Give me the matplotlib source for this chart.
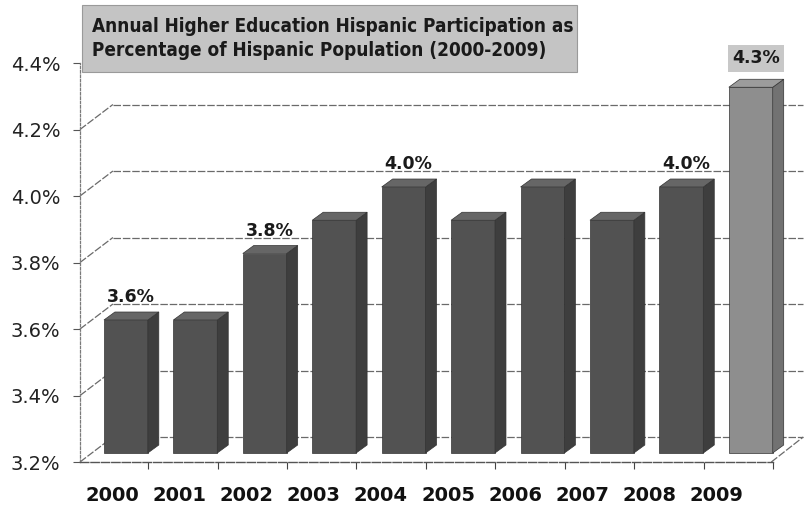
import matplotlib
matplotlib.use("Agg")
import matplotlib.pyplot as plt
from matplotlib.patches import Polygon, Rectangle
import numpy as np

# ---- data ----
years = ["2000", "2001", "2002", "2003", "2004", "2005", "2006", "2007", "2008", "2009"]
values = [3.6, 3.6, 3.8, 3.9, 4.0, 3.9, 4.0, 3.9, 4.0, 4.3]
labeled = [True, False, True, False, True, False, False, False, True, True]
y_ticks = [3.2, 3.4, 3.6, 3.8, 4.0, 4.2, 4.4]
y_tick_labels = ["3.2%", "3.4%", "3.6%", "3.8%", "4.0%", "4.2%", "4.4%"]
title = ("Annual Higher Education Hispanic Participation as\n"
         "Percentage of Hispanic Population (2000-2009)")

# ---- layout ----
W, H = 805, 508
fig = plt.figure(figsize=(W / 100, H / 100), dpi=100)
ax_l, ax_r, ax_b, ax_t = 80, 773, 462, 63  # pixel box of front wall
ax = fig.add_axes([ax_l / W, (H - ax_b) / H, (ax_r - ax_l) / W, (ax_b - ax_t) / H])
pitch = 69.6
x0 = (ax_l - 126) / pitch
x1 = x0 + (ax_r - ax_l) / pitch
ymin, ymax = y_ticks[0], y_ticks[-1]
ax.set_xlim(x0, x1)
ax.set_ylim(ymin, ymax)
ppx = (ax_r - ax_l) / (x1 - x0)
ppy = (ax_b - ax_t) / (ymax - ymin)

# back wall offset (pixels -> data)
bx, by = 33 / ppx, 25 / ppy
grid_kw = dict(color="#6a6a6a", lw=0.9, ls=(0, (6, 1.5)), clip_on=False, zorder=1)
for v in y_ticks[:-1]:
    ax.plot([x0 + bx, x1 + 32 / ppx], [v + by, v + by], **grid_kw)
    ax.plot([x0, x0 + bx], [v, v + by], **grid_kw)
ax.plot([x1, x1 + 32 / ppx], [ymin, ymin + by], **grid_kw)

# ---- bars (pseudo 3D) ----
x = np.arange(len(years))
w = 44 / ppx
shift = 9 / ppy
dx, dy = 11 / ppx, 8 / ppy
front = ["#525252"] * 9 + ["#8e8e8e"]
side = ["#3e3e3e"] * 9 + ["#727272"]
top = ["#666666"] * 9 + ["#9c9c9c"]
v_arr = np.array(values)
ax.bar(x, v_arr - ymin, bottom=ymin + shift, width=w, color=front,
       edgecolor="#333333", linewidth=0.5, clip_on=False, zorder=3)
for i, v in enumerate(values):
    b = ymin + shift
    t = v + shift
    r = x[i] + w / 2
    l = x[i] - w / 2
    ax.add_patch(Polygon([(r, b), (r + dx, b + dy), (r + dx, t + dy), (r, t)],
                         closed=True, facecolor=side[i], edgecolor="#333333",
                         lw=0.5, clip_on=False, zorder=3))
    ax.add_patch(Polygon([(l, t), (r, t), (r + dx, t + dy), (l + dx, t + dy)],
                         closed=True, facecolor=top[i], edgecolor="#333333",
                         lw=0.5, clip_on=False, zorder=3))
    if labeled[i]:
        boxed = i == len(values) - 1
        off = (18 + (6 if boxed else 0)) / ppy
        kw = dict(ha="center", va="baseline", fontsize=12.5, fontweight="bold",
                  color="#1a1a1a", zorder=5, clip_on=False)
        if boxed:
            kw["bbox"] = dict(boxstyle="square,pad=0.25", facecolor="#c8c8c8",
                              edgecolor="none")
        ax.text(x[i] + 5 / ppx, t + off, f"{v:.1f}%", **kw)

# ---- axes styling ----
for s in ["top", "right"]:
    ax.spines[s].set_visible(False)
ax.spines["left"].set_color("#7a7a7a")
ax.spines["left"].set_linestyle((0, (2, 1.5)))
ax.spines["left"].set_linewidth(0.9)
ax.spines["bottom"].set_color("#555555")
ax.spines["bottom"].set_linestyle((0, (6, 1.5)))
ax.spines["bottom"].set_linewidth(1.0)

ax.set_yticks(y_ticks, y_tick_labels)
ax.tick_params(axis="y", length=5, width=0.8, color="#555555", pad=9,
               labelsize=14, labelcolor="#222222")

label_pos = x * 0.966 - 0.19
ax.set_xticks(label_pos, years)
ax.tick_params(axis="x", which="major", length=0, pad=17, labelsize=14,
               labelcolor="#111111")
for lab in ax.get_xticklabels():
    lab.set_fontweight("bold")
ax.set_xticks(x + 0.32, minor=True)
ax.tick_params(axis="x", which="minor", length=5, width=0.8, color="#444444",
               direction="out")
ax.set_facecolor("none")

# ---- title box ----
fig.patches.append(Rectangle((82 / W, (H - 72) / H), 495 / W, 67 / H,
                             transform=fig.transFigure, facecolor="#c4c4c4",
                             edgecolor="#9a9a9a", lw=0.8, zorder=0))
fig.text(92 / W, (H - 38.5) / H, title, ha="left", va="center", fontsize=13.6,
         fontweight="bold", fontstretch="condensed", color="#1a1a1a",
         linespacing=1.35)

fig.savefig("out.png", dpi=100)
